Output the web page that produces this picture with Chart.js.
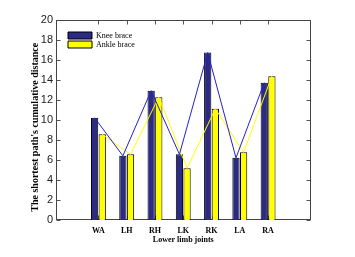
<!DOCTYPE html>
<html><head><meta charset="utf-8">
<script src="https://cdn.jsdelivr.net/npm/chart.js@4"></script>
<style>html,body{margin:0;padding:0;background:#fff;}canvas{display:block;}</style>
</head><body><canvas id="c" width="355" height="257"></canvas>
<script>
const joints = ['WA', 'LH', 'RH', 'LK', 'RK', 'LA', 'RA'];
const kneeBrace = [10.2, 6.4, 12.9, 6.55, 16.7, 6.2, 13.7];
const ankleBrace = [8.55, 6.55, 12.25, 5.15, 11.1, 6.75, 14.35];
const yTickValues = [0, 2, 4, 6, 8, 10, 12, 14, 16, 18, 20];

const CAT_PCT = 0.54, BAR_PCT = 0.95;
const halfChunk = CAT_PCT / 4; // centre of each bar relative to its category, in axis units
const NAVY = '#2d2a83', YEL = '#ffff00';

const barPts = arr => arr.map((v, i) => ({x: i + 1, y: v}));
const linePts = (arr, d) => arr.map((v, i) => ({x: i + 1 + d, y: v}));

const frame = {
  id: 'frame',
  beforeDatasetsDraw(chart) {
    const {ctx, chartArea: a, scales: {x, y}} = chart;
    const L = Math.round(a.left) + 0.5, R = Math.round(a.right) - 0.5;
    const T = Math.round(a.top) + 0.5, B = Math.round(a.bottom) - 0.5;
    ctx.save();
    ctx.strokeStyle = '#555';
    ctx.lineWidth = 1;
    ctx.beginPath();
    yTickValues.forEach(v => {
      const py = Math.round(y.getPixelForValue(v)) + 0.5;
      ctx.moveTo(L, py); ctx.lineTo(L + 4, py);
      ctx.moveTo(R, py); ctx.lineTo(R - 4, py);
    });
    joints.forEach((j, i) => {
      const px = Math.round(x.getPixelForValue(i + 1)) + 0.5;
      ctx.moveTo(px, T); ctx.lineTo(px, T + 4);
      ctx.moveTo(px, B); ctx.lineTo(px, B - 4);
    });
    ctx.stroke();
    ctx.strokeStyle = '#444';
    ctx.strokeRect(L, T, R - L, B - T);
    ctx.restore();
  }
};
const layoutTweak = {
  id: 'layoutTweak',
  afterLayout(chart) {
    const l = chart.legend, a = chart.chartArea;
    if (l) { l.left = a.left + 11; l.top = a.top + 11; }
    // centre the rotated y title a little lower, as in the reference
    chart.scales.y.bottom += 15;
  }
};

new Chart(document.getElementById('c'), {
  type: 'bar',
  data: {
    datasets: [
      {label: 'Knee brace', data: barPts(kneeBrace), backgroundColor: NAVY, borderColor: '#000', borderWidth: 1, order: 1},
      {label: 'Ankle brace', data: barPts(ankleBrace), backgroundColor: YEL, borderColor: '#000', borderWidth: 1, order: 1},
      {type: 'line', label: 'knee line', data: linePts(kneeBrace, -halfChunk), borderColor: '#2222c8', borderWidth: 1, pointRadius: 0, tension: 0, order: 0},
      {type: 'line', label: 'ankle line', data: linePts(ankleBrace, halfChunk), borderColor: '#ffff00', borderWidth: 1, pointRadius: 0, tension: 0, order: 0}
    ]
  },
  options: {
    responsive: false,
    animation: false,
    devicePixelRatio: 1,
    categoryPercentage: CAT_PCT,
    barPercentage: BAR_PCT,
    layout: {padding: {left: 0, top: 19.5, right: 44.5, bottom: 0}},
    plugins: {
      tooltip: {enabled: false},
      legend: {
        position: 'chartArea',
        align: 'start',
        labels: {
          boxWidth: 24, boxHeight: 7, padding: 1, color: '#000',
          font: {family: 'Liberation Serif', size: 8},
          filter: (item, data) => data.datasets[item.datasetIndex].type !== 'line'
        }
      }
    },
    scales: {
      x: {
        type: 'linear', min: 0, max: 8,
        afterFit: s => { s.height = 37; },
        grid: {display: false, drawTicks: false},
        border: {display: false},
        ticks: {
          stepSize: 1, autoSkip: false, maxRotation: 0, padding: 6, color: '#000',
          font: {family: 'Liberation Serif', size: 8, weight: 'bold'},
          callback: v => (v >= 1 && v <= joints.length) ? joints[v - 1] : ''
        },
        title: {display: true, text: 'Lower limb joints', color: '#000',
          font: {family: 'Liberation Serif', size: 8, weight: 'bold'}, padding: {top: 0, bottom: 12.6}}
      },
      y: {
        min: 0, max: 20,
        afterFit: s => { s.width = 56; },
        grid: {display: false, drawTicks: false},
        border: {display: false},
        ticks: {stepSize: 2, padding: 3, color: '#222', font: {family: 'Liberation Sans', size: 11}},
        title: {display: true, text: "The shortest path's cumulative distance", color: '#000',
          font: {family: 'Liberation Serif', size: 10, weight: 'bold'}, padding: {top: 29.6, bottom: 0}}
      }
    }
  },
  plugins: [frame, layoutTweak]
});
</script></body></html>
